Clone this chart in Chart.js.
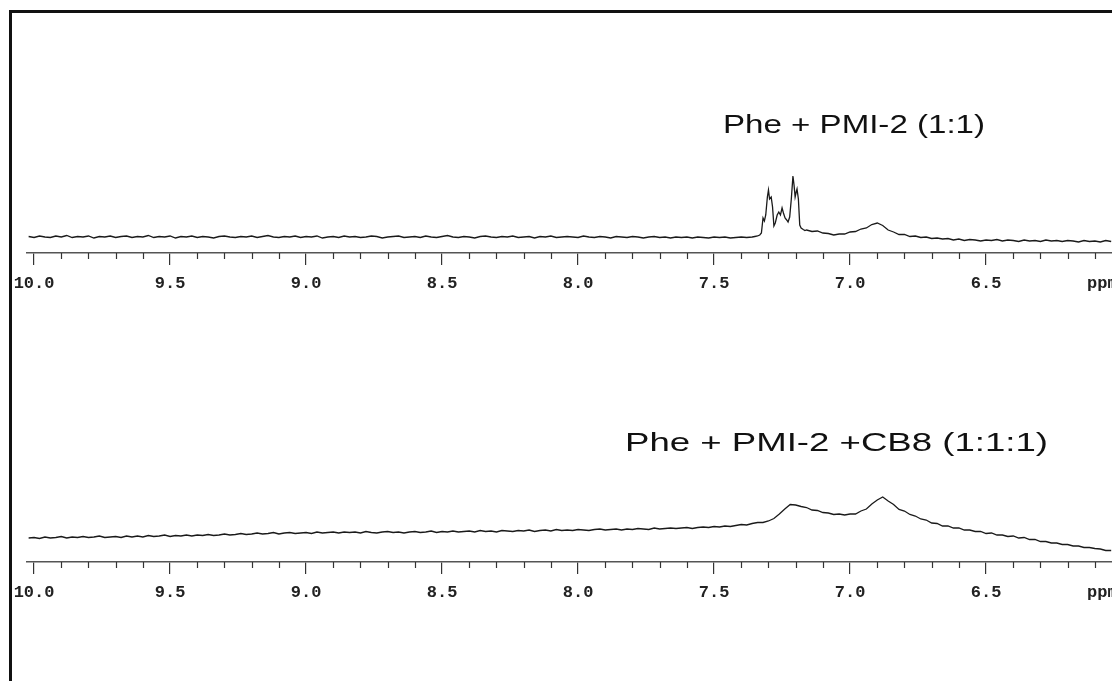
<!DOCTYPE html>
<html>
<head>
<meta charset="utf-8">
<title>1H NMR spectra</title>
<script src="https://cdn.jsdelivr.net/npm/chart.js@4.4.1/dist/chart.umd.min.js"></script>
<style>
  html, body { margin: 0; padding: 0; background: #fff; }
  #page { position: relative; width: 1112px; height: 681px; overflow: hidden; background: #fff; }
  .panel { position: absolute; left: 0; width: 1112px; height: 310px; }
  #frame { position: absolute; left: 9px; top: 10px; right: -10px; bottom: -10px;
           border-left: 3px solid #111; border-top: 3px solid #111; pointer-events: none; }
</style>
</head>
<body>
<div id="page">
  <div class="panel" style="top:0"><canvas id="topSpec" width="1112" height="310"></canvas></div>
  <div class="panel" style="top:309px"><canvas id="bottomSpec" width="1112" height="310"></canvas></div>
  <div id="frame"></div>
</div>
<script>
// ppm window shown on both axes (reversed, NMR style)
const X_MAX = 10.026, X_MIN = 6.037;

const majorTicks = [10.0, 9.5, 9.0, 8.5, 8.0, 7.5, 7.0, 6.5];
const minorTicks = [9.9, 9.8, 9.7, 9.6, 9.4, 9.3, 9.2, 9.1, 8.9, 8.8, 8.7, 8.6,
                    8.4, 8.3, 8.2, 8.1, 7.9, 7.8, 7.7, 7.6, 7.4, 7.3, 7.2, 7.1,
                    6.9, 6.8, 6.7, 6.6, 6.4, 6.3, 6.2, 6.1];

// chemical shift grid (ppm)
const ppmScale = [
  10.02, 10.00, 9.98, 9.96, 9.94, 9.92, 9.90, 9.88, 9.86, 9.84,
  9.82, 9.80, 9.78, 9.76, 9.74, 9.72, 9.70, 9.68, 9.66, 9.64,
  9.62, 9.60, 9.58, 9.56, 9.54, 9.52, 9.50, 9.48, 9.46, 9.44,
  9.42, 9.40, 9.38, 9.36, 9.34, 9.32, 9.30, 9.28, 9.26, 9.24,
  9.22, 9.20, 9.18, 9.16, 9.14, 9.12, 9.10, 9.08, 9.06, 9.04,
  9.02, 9.00, 8.98, 8.96, 8.94, 8.92, 8.90, 8.88, 8.86, 8.84,
  8.82, 8.80, 8.78, 8.76, 8.74, 8.72, 8.70, 8.68, 8.66, 8.64,
  8.62, 8.60, 8.58, 8.56, 8.54, 8.52, 8.50, 8.48, 8.46, 8.44,
  8.42, 8.40, 8.38, 8.36, 8.34, 8.32, 8.30, 8.28, 8.26, 8.24,
  8.22, 8.20, 8.18, 8.16, 8.14, 8.12, 8.10, 8.08, 8.06, 8.04,
  8.02, 8.00, 7.98, 7.96, 7.94, 7.92, 7.90, 7.88, 7.86, 7.84,
  7.82, 7.80, 7.78, 7.76, 7.74, 7.72, 7.70, 7.68, 7.66, 7.64,
  7.62, 7.60, 7.58, 7.56, 7.54, 7.52, 7.50, 7.48, 7.46, 7.44,
  7.42, 7.40, 7.38, 7.36, 7.34, 7.32, 7.30, 7.28, 7.26, 7.24,
  7.22, 7.20, 7.18, 7.16, 7.14, 7.12, 7.10, 7.08, 7.06, 7.04,
  7.02, 7.00, 6.98, 6.96, 6.94, 6.92, 6.90, 6.88, 6.86, 6.84,
  6.82, 6.80, 6.78, 6.76, 6.74, 6.72, 6.70, 6.68, 6.66, 6.64,
  6.62, 6.60, 6.58, 6.56, 6.54, 6.52, 6.50, 6.48, 6.46, 6.44,
  6.42, 6.40, 6.38, 6.36, 6.34, 6.32, 6.30, 6.28, 6.26, 6.24,
  6.22, 6.20, 6.18, 6.16, 6.14, 6.12, 6.10, 6.08, 6.06, 6.04
];

// finer sampling through the aromatic multiplet of the top spectrum
const peakPpm = [7.350, 7.340, 7.332, 7.326, 7.320, 7.315, 7.310, 7.304, 7.300, 7.296,
                 7.290, 7.285, 7.280, 7.275, 7.268, 7.262, 7.256, 7.250, 7.245, 7.239,
                 7.233, 7.228, 7.222, 7.216, 7.210, 7.206, 7.202, 7.198, 7.195, 7.190,
                 7.185, 7.180, 7.172, 7.166];

// Phe + PMI-2 (1:1): 10.02 -> 7.36 ppm
const topLeft = [
  0.5, -0.5, 1, 0, -0.5, 1, 0, 1.5, -0.5, 0.5,
  0, 1, -1, 0.5, 0, 1, -0.5, 0.5, 1, -0.5,
  0.5, 0, 1.5, -0.5, 0.5, 0, 1, -1, 0.5, 0,
  1, -0.5, 0.5, 0, -1, 0.5, 1, 0, -0.5, 0.5,
  0, 1, -0.5, 0.5, 1.5, 0, -0.5, 0.5, 0, 1,
  -0.5, 0.5, 0, 1, -1, 0, 0.5, -0.5, 1, 0,
  0.5, -0.5, 0, 1, 0.5, -1, 0, 0.5, 1, -0.5,
  0, 0.5, -0.5, 1, 0, -0.5, 0.5, 1.5, 0, -0.5,
  0.5, 0, -1, 0.5, 1, 0, -0.5, 0.5, 0, 1,
  -0.5, 0, 0.5, -1, 0.5, 0, 1, -0.5, 0, 0.5,
  0, -0.5, 1, 0, -0.5, 0.5, 0, -1, 0.5, 0,
  -0.5, 0.5, 0, -1, 0, 0.5, -0.5, 0, -1, 0,
  -0.5, 0, -1, 0, -0.5, -1, 0, -0.5, 0, -1,
  -0.5, 0, -0.5, 0
];
// multiplet 7.35 -> 7.17 ppm
const topPeaks = [0.5, 1, 2, 4, 19, 16, 22, 40, 47, 38,
                  40, 30, 11, 14, 22, 25, 22, 29, 24, 19,
                  17, 15, 20, 38, 61, 52, 40, 45, 48, 38,
                  12, 9, 7.5, 6.5];
// 7.16 -> 6.04 ppm (broad peak near 6.9)
const topRight = [
  7, 5.5, 6, 4, 3.5, 2, 3, 3, 5, 5.5,
  8, 9, 12.5, 14, 11.5, 7, 5, 2.5, 2.5, 0.5,
  1, -0.5, 0, -1.5, -1, -2, -1.5, -3, -2, -3.5,
  -2.5, -3, -4, -3, -3.5, -2.5, -4, -3, -3.5, -4.5,
  -3, -4, -3.5, -4.5, -3, -4, -3.5, -4.5, -3.5, -4,
  -5, -3.5, -4.5, -4, -5, -3.5, -4.5
];

// Phe + PMI-2 + CB8 (1:1:1): 10.02 -> 6.04 ppm
const bottomTrace = [
  0, 0.5, -0.5, 1, 0, 0.5, 1.5, 0, 1, 0.5,
  1.5, 0.5, 1, 2, 0.5, 1, 1.5, 0.5, 2, 1,
  2, 1, 2.5, 1.5, 2, 3, 1.5, 2.5, 2, 3,
  2, 3, 2.5, 3.5, 2.5, 3, 4, 3, 3.5, 4.5,
  3.5, 4, 5, 4, 4.5, 5.5, 4, 5, 5.5, 4.5,
  5, 5.5, 4.5, 6, 5, 5.5, 6, 5, 6, 5.5,
  6, 5, 6.5, 5.5, 5, 6, 6.5, 5.5, 6, 5,
  6, 6.5, 5.5, 6, 7, 5.5, 6.5, 6, 7, 6,
  6.5, 7, 6, 7.5, 6.5, 7, 6, 7.5, 7, 6.5,
  7.5, 7, 8, 6.5, 7.5, 8, 7, 8.5, 7.5, 8,
  7.5, 8.5, 8, 7.5, 8.5, 9, 8, 8.5, 9, 8,
  9, 8.5, 9.5, 9, 8.5, 10, 9, 9.5, 10, 9.5,
  10, 10.5, 9.5, 10.5, 11, 10.5, 11.5, 11, 12, 11.5,
  12.5, 13.5, 13, 14.5, 15.5, 15.5, 17, 19.5, 24, 29,
  33.5, 33, 31.5, 30.5, 28, 27.5, 25.5, 25, 23.5, 24,
  23, 24, 24, 27, 29, 34, 38, 41, 37, 33.5,
  28.5, 27, 23.5, 22, 19, 18, 15, 14.5, 12, 12,
  10, 10, 8, 8, 6.5, 6.5, 4.5, 5, 3, 3,
  1.5, 2, 0, 0.5, -1.5, -1.5, -3.5, -3.5, -5, -5,
  -6.5, -6.5, -8, -8, -9.5, -9.5, -10.5, -11, -12.5, -12.5
];

const topPpm = ppmScale.slice(0, 134).concat(peakPpm, ppmScale.slice(143));
const topIntensity = topLeft.concat(topPeaks, topRight);

const MONO = '"Liberation Mono", "Courier New", monospace';
const LABEL_PAD = 9;

// minor ticks, unit label and the spectrum caption
const axisDecor = {
  id: 'axisDecor',
  afterDraw(chart, args, opts) {
    const ctx = chart.ctx;
    const xs = chart.scales.x;
    ctx.save();
    ctx.strokeStyle = '#333';
    ctx.lineWidth = 1.2;
    minorTicks.forEach(v => {
      const px = Math.round(xs.getPixelForValue(v)) + 0.5;
      ctx.beginPath();
      ctx.moveTo(px, xs.top);
      ctx.lineTo(px, xs.top + 6);
      ctx.stroke();
    });

    ctx.fillStyle = '#222';
    ctx.font = 'bold 17px ' + MONO;
    ctx.textBaseline = 'top';
    ctx.textAlign = 'left';
    ctx.fillText('ppm', opts.unitX, xs.top + 12 + LABEL_PAD + 1);

    ctx.font = '26px "Liberation Sans", Arial, sans-serif';
    ctx.fillStyle = '#111';
    ctx.textBaseline = 'alphabetic';
    const w = ctx.measureText(opts.title).width;
    ctx.translate(opts.titleX, opts.titleBase);
    ctx.scale(opts.titleWidth / w, 1);
    ctx.fillText(opts.title, 0, 0);
    ctx.restore();
  }
};

function makeSpectrum(canvasId, ppm, intensity, yMin, yMax, caption) {
  const ctx = document.getElementById(canvasId);
  return new Chart(ctx, {
    type: 'line',
    data: {
      datasets: [{
        data: ppm.map((x, i) => ({ x: x, y: intensity[i] })),
        borderColor: '#1a1a1a',
        borderWidth: 1.3,
        pointRadius: 0,
        tension: 0,
        fill: false
      }]
    },
    options: {
      responsive: false,
      animation: false,
      layout: { padding: { left: 27, right: 0, top: 0, bottom: 0 } },
      plugins: {
        legend: { display: false },
        tooltip: { enabled: false },
        axisDecor: caption
      },
      scales: {
        x: {
          type: 'linear',
          reverse: true,
          min: X_MIN,
          max: X_MAX,
          afterBuildTicks: s => { s.ticks = majorTicks.map(v => ({ value: v })); },
          afterFit: s => { s.height = 57; },
          grid: { drawOnChartArea: false, tickLength: 12, color: '#333', lineWidth: 1.2 },
          border: { display: true, color: '#555', width: 1.5 },
          ticks: {
            color: '#222',
            padding: LABEL_PAD,
            maxRotation: 0,
            autoSkip: false,
            font: { family: MONO, size: 17, weight: 'bold' },
            callback: v => Number(v).toFixed(1)
          }
        },
        y: { display: false, min: yMin, max: yMax }
      }
    },
    plugins: [axisDecor]
  });
}

makeSpectrum('topSpec', topPpm, topIntensity, -16, 237,
  { title: 'Phe + PMI-2 (1:1)', titleX: 723, titleBase: 133, titleWidth: 262, unitX: 1087 });
makeSpectrum('bottomSpec', ppmScale, bottomTrace, -24, 229,
  { title: 'Phe + PMI-2 +CB8 (1:1:1)', titleX: 625, titleBase: 142, titleWidth: 423, unitX: 1087 });
</script>
</body>
</html>
